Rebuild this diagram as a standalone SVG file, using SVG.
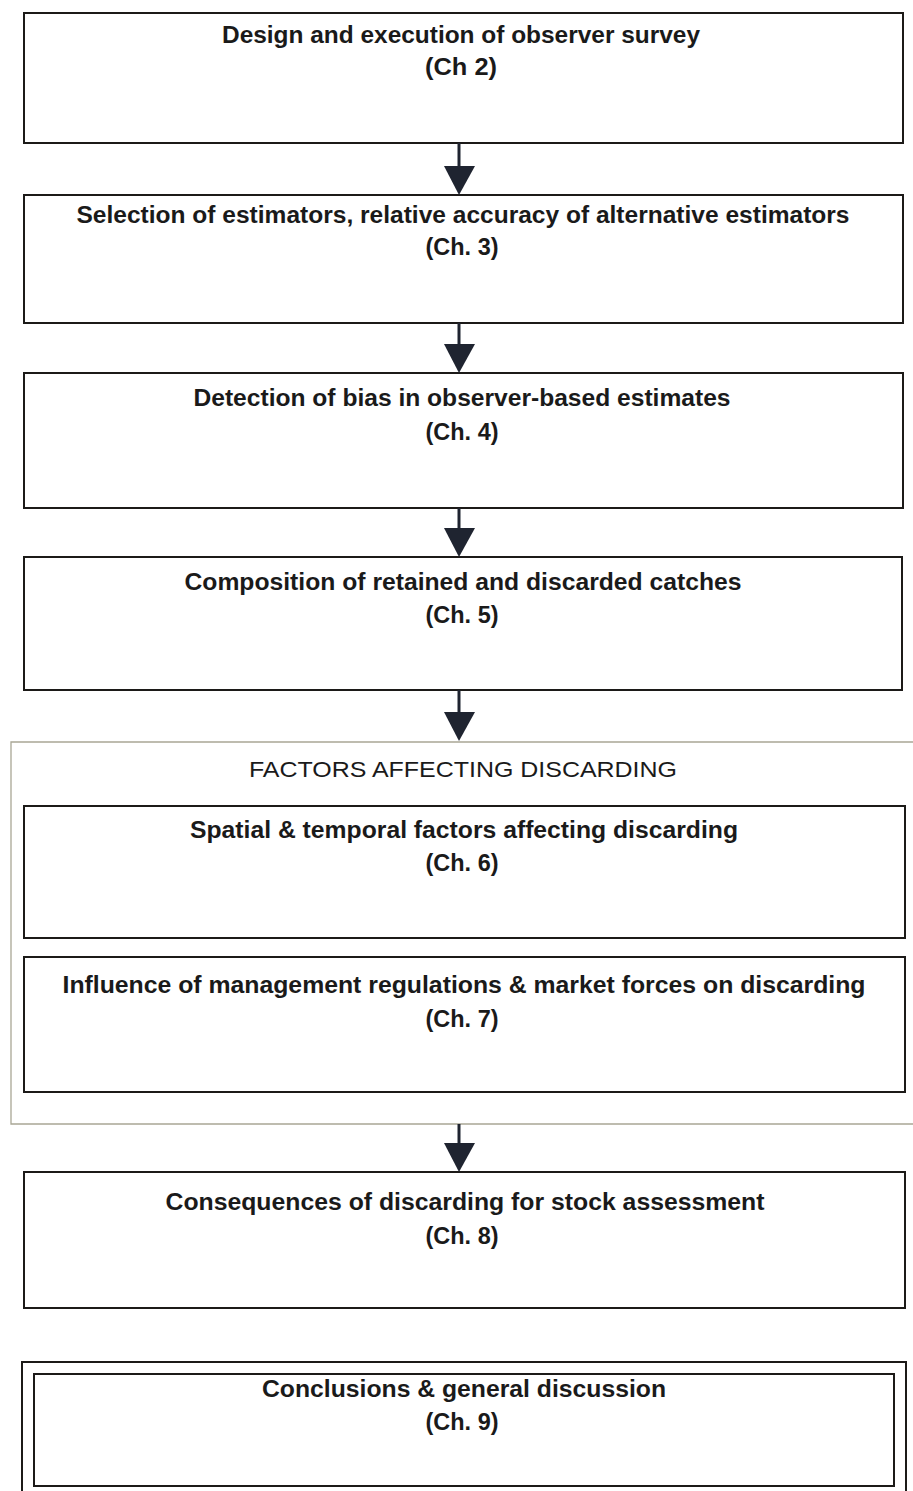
<svg xmlns="http://www.w3.org/2000/svg" width="913" height="1491" viewBox="0 0 913 1491">
<style>
.box{fill:#fff;stroke:#1c1a18;stroke-width:2}
.t{font-family:"Liberation Sans",Arial,sans-serif;font-weight:bold;font-size:23px;fill:#1a1a1a;text-anchor:middle}
.g{font-family:"Liberation Sans",Arial,sans-serif;font-size:22px;fill:#1a1a1a;text-anchor:middle}
.grp{fill:none;stroke:#a9a795;stroke-width:1.3}
.ln{stroke:#1f2430;stroke-width:3}
.hd{fill:#1f2430}
</style>
<rect width="913" height="1491" fill="#fff"/>
<g id="group-factors">
<path class="grp" d="M913 742 H11 V1124 H913"/>
<text class="g" x="463" y="777" textLength="428" lengthAdjust="spacingAndGlyphs">FACTORS AFFECTING DISCARDING</text>
</g>
<g id="n1">
<rect class="box" x="24" y="13" width="879" height="130"/>
<text class="t" x="461" y="43" textLength="478" lengthAdjust="spacingAndGlyphs">Design and execution of observer survey</text>
<text class="t" x="461" y="75" textLength="72" lengthAdjust="spacingAndGlyphs">(Ch 2)</text>
</g>
<g id="n2">
<rect class="box" x="24" y="195" width="879" height="128"/>
<text class="t" x="463" y="223" textLength="773" lengthAdjust="spacingAndGlyphs">Selection of estimators, relative accuracy of alternative estimators</text>
<text class="t" x="462" y="255" textLength="73" lengthAdjust="spacingAndGlyphs">(Ch. 3)</text>
</g>
<g id="n3">
<rect class="box" x="24" y="373" width="879" height="135"/>
<text class="t" x="462" y="406" textLength="537" lengthAdjust="spacingAndGlyphs">Detection of bias in observer-based estimates</text>
<text class="t" x="462" y="440" textLength="73" lengthAdjust="spacingAndGlyphs">(Ch. 4)</text>
</g>
<g id="n4">
<rect class="box" x="24" y="557" width="878" height="133"/>
<text class="t" x="463" y="590" textLength="557" lengthAdjust="spacingAndGlyphs">Composition of retained and discarded catches</text>
<text class="t" x="462" y="623" textLength="73" lengthAdjust="spacingAndGlyphs">(Ch. 5)</text>
</g>
<g id="n6">
<rect class="box" x="24" y="806" width="881" height="132"/>
<text class="t" x="464" y="838" textLength="548" lengthAdjust="spacingAndGlyphs">Spatial &amp; temporal factors affecting discarding</text>
<text class="t" x="462" y="871" textLength="73" lengthAdjust="spacingAndGlyphs">(Ch. 6)</text>
</g>
<g id="n7">
<rect class="box" x="24" y="957" width="881" height="135"/>
<text class="t" x="464" y="993" textLength="803" lengthAdjust="spacingAndGlyphs">Influence of management regulations &amp; market forces on discarding</text>
<text class="t" x="462" y="1027" textLength="73" lengthAdjust="spacingAndGlyphs">(Ch. 7)</text>
</g>
<g id="n8">
<rect class="box" x="24" y="1172" width="881" height="136"/>
<text class="t" x="465" y="1210" textLength="599" lengthAdjust="spacingAndGlyphs">Consequences of discarding for stock assessment</text>
<text class="t" x="462" y="1244" textLength="73" lengthAdjust="spacingAndGlyphs">(Ch. 8)</text>
</g>
<g id="n9">
<path class="box" fill="none" d="M22 1500 V1362 H906 V1500"/>
<rect class="box" x="34" y="1374" width="860" height="112"/>
<text class="t" x="464" y="1397" textLength="404" lengthAdjust="spacingAndGlyphs">Conclusions &amp; general discussion</text>
<text class="t" x="462" y="1430" textLength="73" lengthAdjust="spacingAndGlyphs">(Ch. 9)</text>
</g>
<g id="connectors">
<line class="ln" x1="459" y1="143" x2="459" y2="168"/>
<polygon class="hd" points="444,166 475,166 459,195"/>
<line class="ln" x1="459" y1="323" x2="459" y2="346"/>
<polygon class="hd" points="444,344 475,344 459,373"/>
<line class="ln" x1="459" y1="508" x2="459" y2="530"/>
<polygon class="hd" points="444,528 475,528 459,557"/>
<line class="ln" x1="459" y1="690" x2="459" y2="714"/>
<polygon class="hd" points="444,712 475,712 459,741"/>
<line class="ln" x1="459" y1="1124" x2="459" y2="1145"/>
<polygon class="hd" points="444,1143 475,1143 459,1172"/>
</g>
</svg>
